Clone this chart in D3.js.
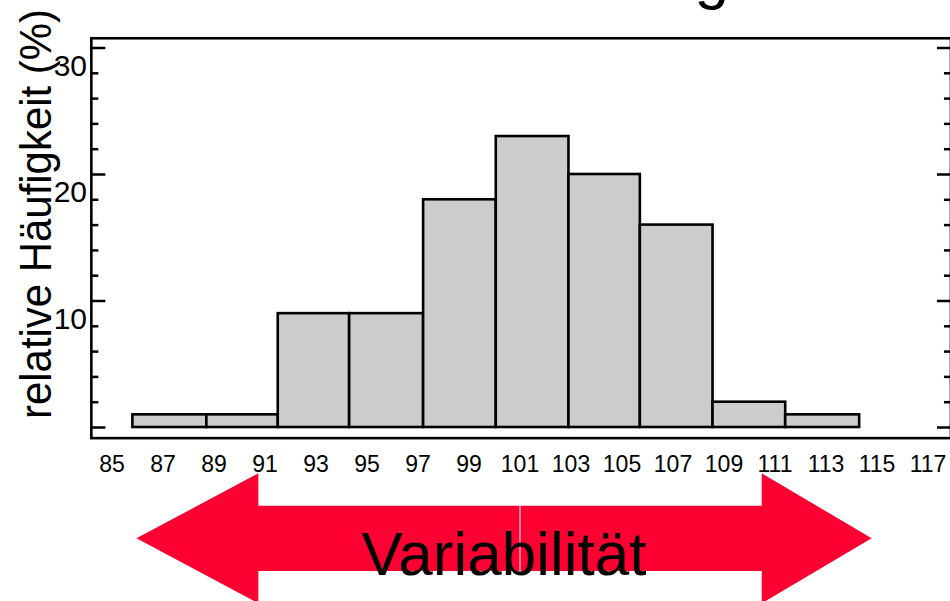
<!DOCTYPE html>
<html>
<head>
<meta charset="utf-8">
<script src="https://cdn.jsdelivr.net/npm/d3@7"></script>
<style>
  html, body { margin: 0; padding: 0; background: #fff; }
  svg { display: block; font-family: "Liberation Sans", Arial, Helvetica, sans-serif; }
</style>
</head>
<body>
<svg id="chart" width="950" height="601"></svg>
<script>
// ---- data ----
const xTickLabels = [85, 87, 89, 91, 93, 95, 97, 99, 101, 103, 105, 107, 109, 111, 113, 115, 117];
const binEdges = [85.8, 88.7, 91.5, 94.3, 97.2, 100.05, 102.9, 105.7, 108.55, 111.4, 114.3];
const frequencies = [1, 1, 9, 9, 18, 23, 20, 16, 2, 1];
const yMajorTicks = [0, 10, 20, 30];
const yLabelTicks = [10, 20, 30];
const yMinorTicks = [2, 4, 6, 8, 12, 14, 16, 18, 22, 24, 26, 28];
const yTitle = "relative Häufigkeit (%)";
const titleText = "Normalverteilung";
const arrowLabel = "Variabilität";

// ---- layout ----
const svg = d3.select("#chart");
const x = d3.scaleLinear().domain([85, 117]).range([112, 928]);
const y = d3.scaleLinear().domain([0, 30]).range([427, 427 - 30 * 12.65]);

const frameX = [84.19, 117.9];
const frameY = [-0.88, 30.73];

// title (mostly cut off at top, as in the reference)
svg.append("text")
  .attr("x", 729).attr("y", -3)
  .attr("text-anchor", "end")
  .attr("font-size", 62)
  .attr("fill", "#000")
  .text(titleText);

// bars
const bars = frequencies.map((f, i) => ({ x0: binEdges[i], x1: binEdges[i + 1], v: f }));
svg.append("g").selectAll("rect").data(bars).join("rect")
  .attr("x", d => x(d.x0))
  .attr("y", d => y(d.v))
  .attr("width", d => x(d.x1) - x(d.x0))
  .attr("height", d => y(0) - y(d.v))
  .attr("fill", "#cccccc")
  .attr("stroke", "#000")
  .attr("stroke-width", 2.6);

// ticks left and right (inward)
const fx0 = x(frameX[0]), fx1 = x(frameX[1]);
const axL = svg.append("g").attr("transform", `translate(${fx0},0)`)
  .call(d3.axisLeft(y).tickValues(yMajorTicks).tickSize(-14).tickFormat(""));
const axLm = svg.append("g").attr("transform", `translate(${fx0},0)`)
  .call(d3.axisLeft(y).tickValues(yMinorTicks).tickSize(-7).tickFormat(""));
const axR = svg.append("g").attr("transform", `translate(${fx1},0)`)
  .call(d3.axisRight(y).tickValues(yMajorTicks).tickSize(-14).tickFormat(""));
const axRm = svg.append("g").attr("transform", `translate(${fx1},0)`)
  .call(d3.axisRight(y).tickValues(yMinorTicks).tickSize(-7).tickFormat(""));
[axL, axLm, axR, axRm].forEach(g => {
  g.select(".domain").remove();
  g.selectAll(".tick line").attr("stroke", "#000").attr("stroke-width", 2.5);
});

// y labels (placed just below their ticks)
svg.append("g").selectAll("text").data(yLabelTicks).join("text")
  .attr("x", 87)
  .attr("y", d => y(d) + 28)
  .attr("text-anchor", "end")
  .attr("font-size", 30)
  .attr("fill", "#000")
  .text(d => d);

// frame
svg.append("rect")
  .attr("x", fx0).attr("y", y(frameY[1]))
  .attr("width", fx1 - fx0).attr("height", y(frameY[0]) - y(frameY[1]))
  .attr("fill", "none").attr("stroke", "#000").attr("stroke-width", 2.6);

// x labels
svg.append("g").selectAll("text").data(xTickLabels).join("text")
  .attr("x", d => x(d))
  .attr("y", 471.5)
  .attr("text-anchor", "middle")
  .attr("font-size", 23)
  .attr("fill", "#000")
  .text(d => d);

// y title
svg.append("text")
  .attr("transform", "translate(51,419) rotate(-90)")
  .attr("text-anchor", "start")
  .attr("font-size", 45)
  .attr("textLength", 410)
  .attr("lengthAdjust", "spacingAndGlyphs")
  .attr("fill", "#000")
  .text(yTitle);

// variability arrows
const red = "#fb0030";
const midV = 101.0;
const leftTip = 85.96, leftBack = 90.74, rightBack = 110.48, rightTip = 114.79;
const shaftTop = 505.7, shaftBot = 571, headTop = 473.3, headBot = 603.3, tipY = 538.3;
const leftArrow = [
  [x(leftTip), tipY], [x(leftBack), headTop], [x(leftBack), shaftTop],
  [x(midV), shaftTop], [x(midV), shaftBot], [x(leftBack), shaftBot], [x(leftBack), headBot]
];
const rightArrow = [
  [x(rightTip), tipY], [x(rightBack), headTop], [x(rightBack), shaftTop],
  [x(midV), shaftTop], [x(midV), shaftBot], [x(rightBack), shaftBot], [x(rightBack), headBot]
];
const line = d3.line();
svg.append("path").attr("d", line(leftArrow) + "Z").attr("fill", red);
svg.append("path").attr("d", line(rightArrow) + "Z").attr("fill", red);
svg.append("line")
  .attr("x1", x(midV)).attr("x2", x(midV))
  .attr("y1", shaftTop).attr("y2", shaftBot + 0.7)
  .attr("stroke", "#fff").attr("stroke-width", 1);

svg.append("text")
  .attr("x", 504).attr("y", 575)
  .attr("text-anchor", "middle")
  .attr("font-size", 62)
  .attr("fill", "#000")
  .text(arrowLabel);
</script>
</body>
</html>
